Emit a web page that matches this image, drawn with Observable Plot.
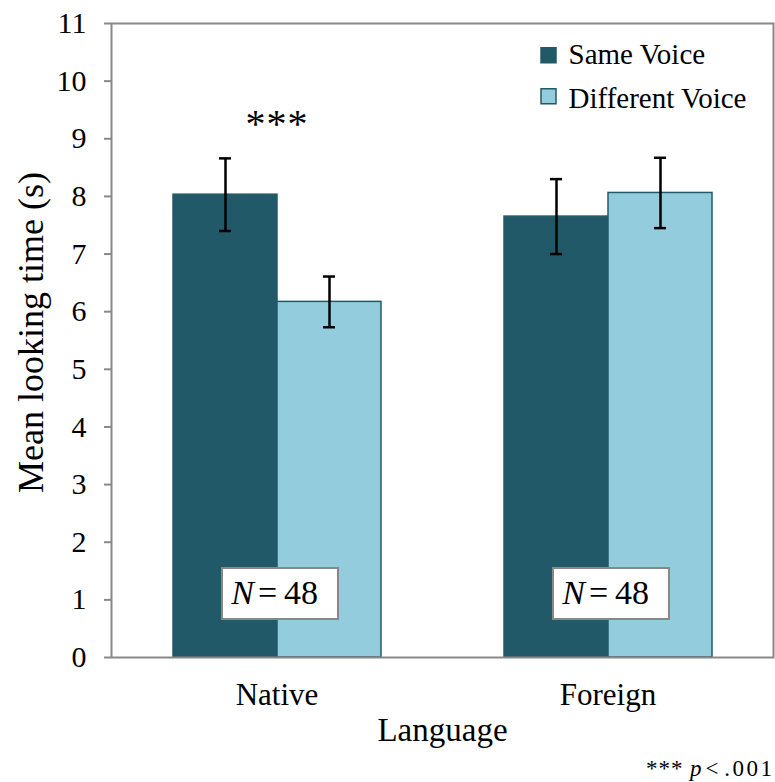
<!DOCTYPE html>
<html>
<head>
<meta charset="utf-8">
<script src="https://cdn.jsdelivr.net/npm/d3@7"></script>
<script src="https://cdn.jsdelivr.net/npm/@observablehq/plot@0.6"></script>
<style>
  html, body { margin: 0; padding: 0; background: #fff; }
  #chart svg, #chart svg text { font-family: "Liberation Serif", "Times New Roman", serif !important; }
</style>
</head>
<body>
<div id="chart"></div>
<script>
const languages = ["Native", "Foreign"];
const voices = ["Same Voice", "Different Voice"];
const sameMeans = [8.03, 7.65];
const diffMeans = [6.17, 8.06];
const sameErr = [0.63, 0.65];
const diffErr = [0.44, 0.61];
const sampleN = [48, 48];
const yTicks = [0, 1, 2, 3, 4, 5, 6, 7, 8, 9, 10, 11];
const yTitle = "Mean looking time (s)";
const xTitle = "Language";
const sigLanguage = ["Native"];
const sigLabel = ["***"];
const sigY = [9.25];
const footParts = ["***", "p", "<", ".001"];

const colors = ["#225968", "#93CDDD"];
const edge = "#225968";
const FONT = "Liberation Serif";

const rows = [];
languages.forEach((lang, i) => {
  rows.push({language: lang, voice: voices[0], mean: sameMeans[i], lo: sameMeans[i] - sameErr[i], hi: sameMeans[i] + sameErr[i]});
  rows.push({language: lang, voice: voices[1], mean: diffMeans[i], lo: diffMeans[i] - diffErr[i], hi: diffMeans[i] + diffErr[i]});
});
const nRows = languages.map((lang, i) => ({language: lang, n: sampleN[i]}));
const sigRows = sigLanguage.map((lang, i) => ({language: lang, label: sigLabel[i], y: sigY[i]}));
const legendRows = voices.map((v, i) => ({voice: v, color: colors[i]}));

const boxSymbol = {draw(ctx) { ctx.rect(-58, -25.5, 116, 51); }};
const squareSymbol = {draw(ctx) { ctx.rect(-7.5, -7.5, 15, 15); }};

const footText = (part, dx, anchor, italic) =>
  Plot.text([part], {facet: "super", frameAnchor: "bottom-right", dx, dy: 118, text: d => d, textAnchor: anchor,
    lineAnchor: "bottom", fontSize: 23, fontStyle: italic ? "italic" : "normal", fontFamily: FONT, fill: "#000"});

const plot = Plot.plot({
  width: 775,
  height: 782,
  marginTop: 23,
  marginLeft: 110,
  marginRight: 2,
  marginBottom: 125,
  style: "font-family: 'Liberation Serif', serif; font-size: 30px; color: #000; background: #fff;",
  fx: {domain: languages, padding: 0},
  x: {domain: voices, paddingInner: 0, paddingOuter: 0.59, axis: null},
  y: {domain: [0, 11]},
  color: {domain: voices, range: colors},
  marks: [
    Plot.barY(rows, {fx: "language", x: "voice", y: "mean", fill: "voice", stroke: edge, strokeWidth: 1.5}),
    Plot.ruleX(rows, {fx: "language", x: "voice", y1: "lo", y2: "hi", stroke: "#000", strokeWidth: 2.5}),
    Plot.tickY(rows, {fx: "language", x: "voice", y: "lo", stroke: "#000", strokeWidth: 2.5, insetLeft: 46, insetRight: 46}),
    Plot.tickY(rows, {fx: "language", x: "voice", y: "hi", stroke: "#000", strokeWidth: 2.5, insetLeft: 46, insetRight: 46}),
    Plot.dot(nRows, {fx: "language", frameAnchor: "bottom", dx: 3, dy: -64, symbol: boxSymbol, fill: "white", stroke: "#888", strokeWidth: 2}),
    Plot.text(nRows, {fx: "language", text: () => "N", frameAnchor: "bottom", dx: -23, dy: -64, textAnchor: "end", lineAnchor: "middle", fontStyle: "italic", fontSize: 34, fontFamily: FONT, fill: "#000"}),
    Plot.text(nRows, {fx: "language", text: d => "=\u2009" + d.n, frameAnchor: "bottom", dx: -19, dy: -64, textAnchor: "start", lineAnchor: "middle", fontSize: 34, fontFamily: FONT, fill: "#000"}),
    Plot.text(sigRows, {fx: "language", y: "y", text: "label", fontSize: 40, fontFamily: FONT, fill: "#000"}),
    Plot.axisY({ticks: yTicks, tickSize: 7, tickPadding: 18, stroke: "#888", fill: "#000", strokeWidth: 2, fontSize: 30, fontFamily: FONT, label: null}),
    Plot.text([yTitle], {facet: "super", frameAnchor: "left", dx: -80, dy: -8, rotate: -90, text: d => d, textAnchor: "middle", lineAnchor: "middle", fontSize: 36, fontFamily: FONT, fill: "#000"}),
    Plot.axisFx({anchor: "bottom", tickSize: 0, tickPadding: 25, fontSize: 31, fontFamily: FONT, fill: "#000", label: null}),
    Plot.text([xTitle], {facet: "super", frameAnchor: "bottom", dy: 83, text: d => d, lineAnchor: "bottom", fontSize: 33, fontFamily: FONT, fill: "#000"}),
    Plot.frame({facet: "super", stroke: "#888", strokeWidth: 2}),
    ...legendRows.flatMap((d, i) => [
      Plot.dot([d], {facet: "super", frameAnchor: "top-right", dx: -225, dy: 31.7 + i * 41, symbol: squareSymbol, fill: "color", stroke: edge, strokeWidth: 1.5}),
      Plot.text([d], {facet: "super", frameAnchor: "top-right", dx: -205, dy: 31 + i * 44, text: "voice", textAnchor: "start", lineAnchor: "middle", fontSize: 29, fontFamily: FONT, fill: "#000"})
    ]),
    footText(footParts[3], 1, "end", false),
    footText(footParts[2], -55, "end", false),
    footText(footParts[1], -72, "end", true),
    footText(footParts[0], -90, "end", false)
  ]
});
document.getElementById("chart").appendChild(plot);
d3.select(plot).selectAll("text")
  .filter(function () { return this.textContent === footParts[3]; })
  .style("letter-spacing", "2.5px");
d3.select(plot).selectAll("text")
  .filter(function () { return this.textContent === footParts[0]; })
  .style("letter-spacing", "1px");
</script>
</body>
</html>
